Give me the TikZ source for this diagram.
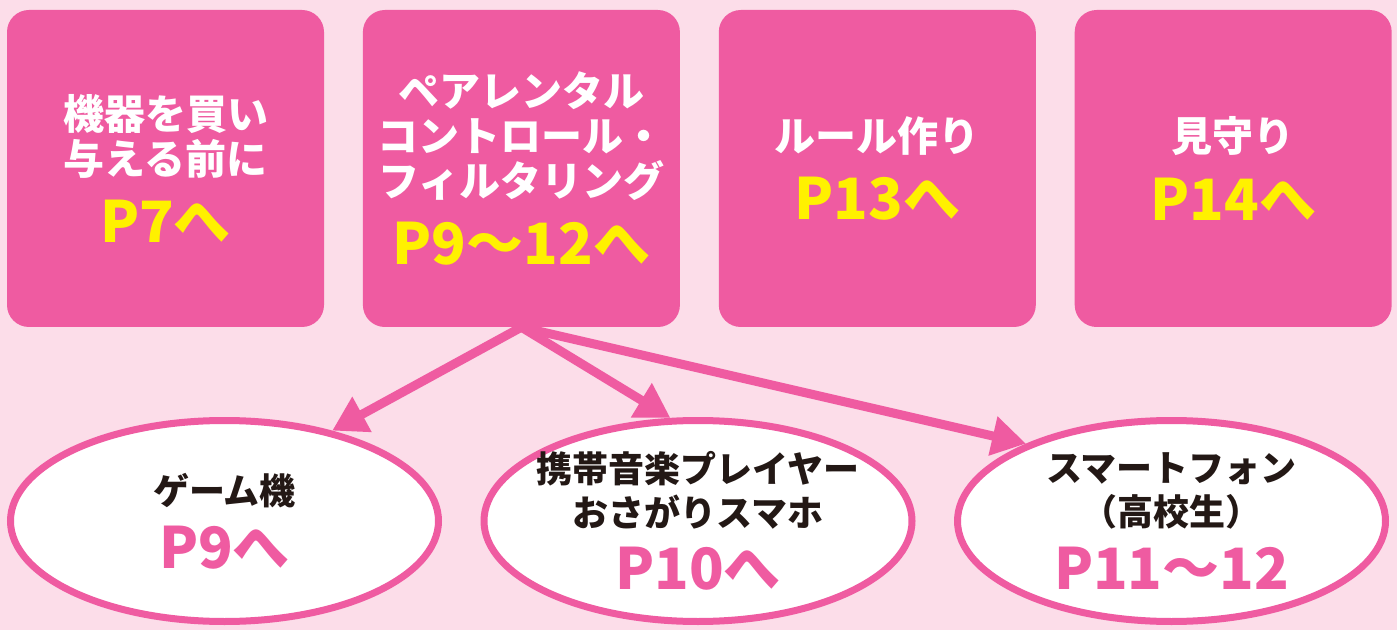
\documentclass[tikz,border=0pt]{standalone}
\usepackage{fontspec}
\setmainfont{Noto Sans CJK JP}
\usepackage{xcolor}
\usetikzlibrary{shapes.geometric,arrows.meta,positioning}

\definecolor{bgpink}{HTML}{FCDDE9}
\definecolor{mainpink}{HTML}{EF5BA1}
\definecolor{pageyellow}{HTML}{FFF100}
\definecolor{inkblack}{HTML}{231815}

\newcommand{\topage}[2]{{\fontsize{57}{57}\selectfont\color{#1}#2}}

\begin{document}
\begin{tikzpicture}[
    x=1pt, y=1pt,
    node distance=38.5pt,
    menubox/.style={rectangle, rounded corners=22pt, fill=mainpink, minimum width=317pt, minimum height=317pt, inner sep=0pt, align=center, text=white, font=\bfseries\fontsize{41}{45}\selectfont},
    topic/.style={ellipse, draw=mainpink, line width=7pt, fill=white, minimum width=428pt, minimum height=201pt, inner xsep=-20pt, inner ysep=0pt, align=center, text=inkblack, font=\bfseries\fontsize{36}{44}\selectfont},
    arrow/.style={-{Triangle[length=34pt, width=38pt]}, line width=9pt, draw=mainpink}
]

% Background
\fill[bgpink] (0,0) rectangle (1397,630);
\useasboundingbox (0,0) rectangle (1397,630);

% Top row
\node[menubox] (buy) at (165.5,461.5) {機器を買い\\与える前に\\[21pt]\topage{pageyellow}{P7へ}};
\node[menubox, right=of buy] (parental) {ペアレンタル\\コントロール・\\フィルタリング\\[21pt]\topage{pageyellow}{P9〜12へ}};
\node[menubox, right=of parental] (rules) {ルール作り\\[21pt]\topage{pageyellow}{P13へ}};
\node[menubox, right=of rules] (watch) {見守り\\[21pt]\topage{pageyellow}{P14へ}};

% Bottom row
\node[topic] (game) at (224.5,109) {ゲーム機\\[17pt]\topage{mainpink}{P9へ}};
\node[topic, right=of game] (player) {携帯音楽プレイヤー\\おさがりスマホ\\[17pt]\topage{mainpink}{P10へ}};
\node[topic, right=of player] (phone) {スマートフォン\\（高校生）\\[17pt]\topage{mainpink}{P11〜12}};

% Arrows
\draw[arrow] (parental.south) -- (game.40);
\draw[arrow] (parental.south) -- (player.105);
\draw[arrow] (parental.south) -- (phone.152);

\end{tikzpicture}
\end{document}
